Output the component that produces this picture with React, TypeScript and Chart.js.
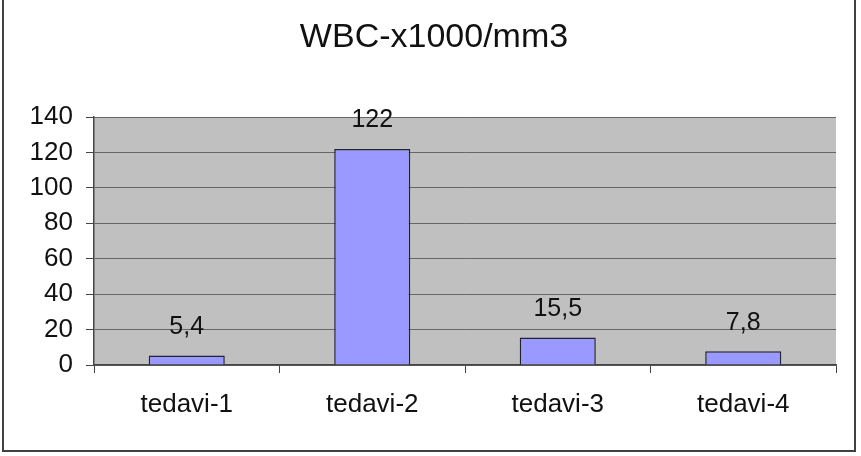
import React, { useEffect, useRef } from "react";
import { Chart, registerables } from "chart.js";

Chart.register(...registerables);

const chartTitle = "WBC-x1000/mm3";
const categories = ["tedavi-1", "tedavi-2", "tedavi-3", "tedavi-4"];
const wbcValues = [5.4, 122, 15.5, 7.8];
const yMin = 0;
const yMax = 140;
const yStep = 20;

const FONT = "'Liberation Sans', Arial, sans-serif";

const fmt = (v: number) => String(v).replace(".", ",");

const decorPlugin = {
  id: "decor",
  beforeDraw(chart: any) {
    const { ctx, chartArea } = chart;
    ctx.save();
    ctx.fillStyle = "#ffffff";
    ctx.fillRect(0, 0, chart.width, chart.height);
    ctx.fillStyle = "#C0C0C0";
    ctx.fillRect(
      chartArea.left,
      chartArea.top,
      chartArea.right - chartArea.left,
      chartArea.bottom - chartArea.top
    );
    ctx.restore();
  },
  afterDraw(chart: any) {
    const { ctx } = chart;
    ctx.save();
    // outer frame
    ctx.strokeStyle = "#404040";
    ctx.lineWidth = 2;
    ctx.beginPath();
    ctx.moveTo(3, -5);
    ctx.lineTo(3, 451);
    ctx.lineTo(855, 451);
    ctx.lineTo(855, -5);
    ctx.stroke();
    // title
    ctx.fillStyle = "#111";
    ctx.font = `34px ${FONT}`;
    ctx.textAlign = "center";
    ctx.textBaseline = "alphabetic";
    ctx.fillText(chartTitle, 434, 47);
    ctx.restore();
  },
  afterDatasetsDraw(chart: any) {
    const { ctx } = chart;
    const meta = chart.getDatasetMeta(0);
    ctx.save();
    ctx.fillStyle = "#111";
    ctx.font = `25px ${FONT}`;
    ctx.textAlign = "center";
    ctx.textBaseline = "alphabetic";
    meta.data.forEach((bar: any, i: number) => {
      const v = chart.data.datasets[0].data[i] as number;
      ctx.fillText(fmt(v), bar.x, bar.y - 21.5);
    });
    ctx.restore();
  },
};

export default function App() {
  const ref = useRef<HTMLCanvasElement>(null);
  useEffect(() => {
    if (!ref.current) return;
    const chart = new Chart(ref.current, {
      type: "bar",
      data: {
        labels: categories,
        datasets: [
          {
            data: wbcValues,
            backgroundColor: "#9999FF",
            borderColor: "#222233",
            borderWidth: 1.5,
            categoryPercentage: 1,
            barPercentage: 0.41,
          },
        ],
      },
      options: {
        responsive: false,
        animation: false,
        layout: { padding: { top: 117, left: 0, right: 25, bottom: 31 } },
        plugins: {
          legend: { display: false },
          title: { display: false },
          tooltip: { enabled: false },
        },
        scales: {
          x: {
            afterFit(scale: any) {
              scale.height = 60;
            },
            grid: {
              drawOnChartArea: false,
              drawTicks: true,
              tickLength: 8,
              tickColor: "#444",
              offset: true,
            },
            border: { color: "#444", width: 1.5 },
            ticks: {
              color: "#111",
              font: { family: FONT, size: 26 },
              padding: 16,
              maxRotation: 0,
            },
          },
          y: {
            min: yMin,
            max: yMax,
            afterFit(scale: any) {
              scale.width = 94;
            },
            grid: {
              color: "#666",
              lineWidth: 1,
              tickLength: 8,
              tickColor: "#444",
            },
            border: { color: "#444", width: 1.5 },
            ticks: {
              stepSize: yStep,
              color: "#111",
              font: { family: FONT, size: 26 },
              padding: 13,
            },
          },
        },
      },
      plugins: [decorPlugin],
    });
    return () => chart.destroy();
  }, []);
  return (
    <div style={{ position: "fixed", left: 0, top: 0, width: 861, height: 456 }}>
      <canvas ref={ref} width={861} height={456} style={{ display: "block" }} />
    </div>
  );
}
